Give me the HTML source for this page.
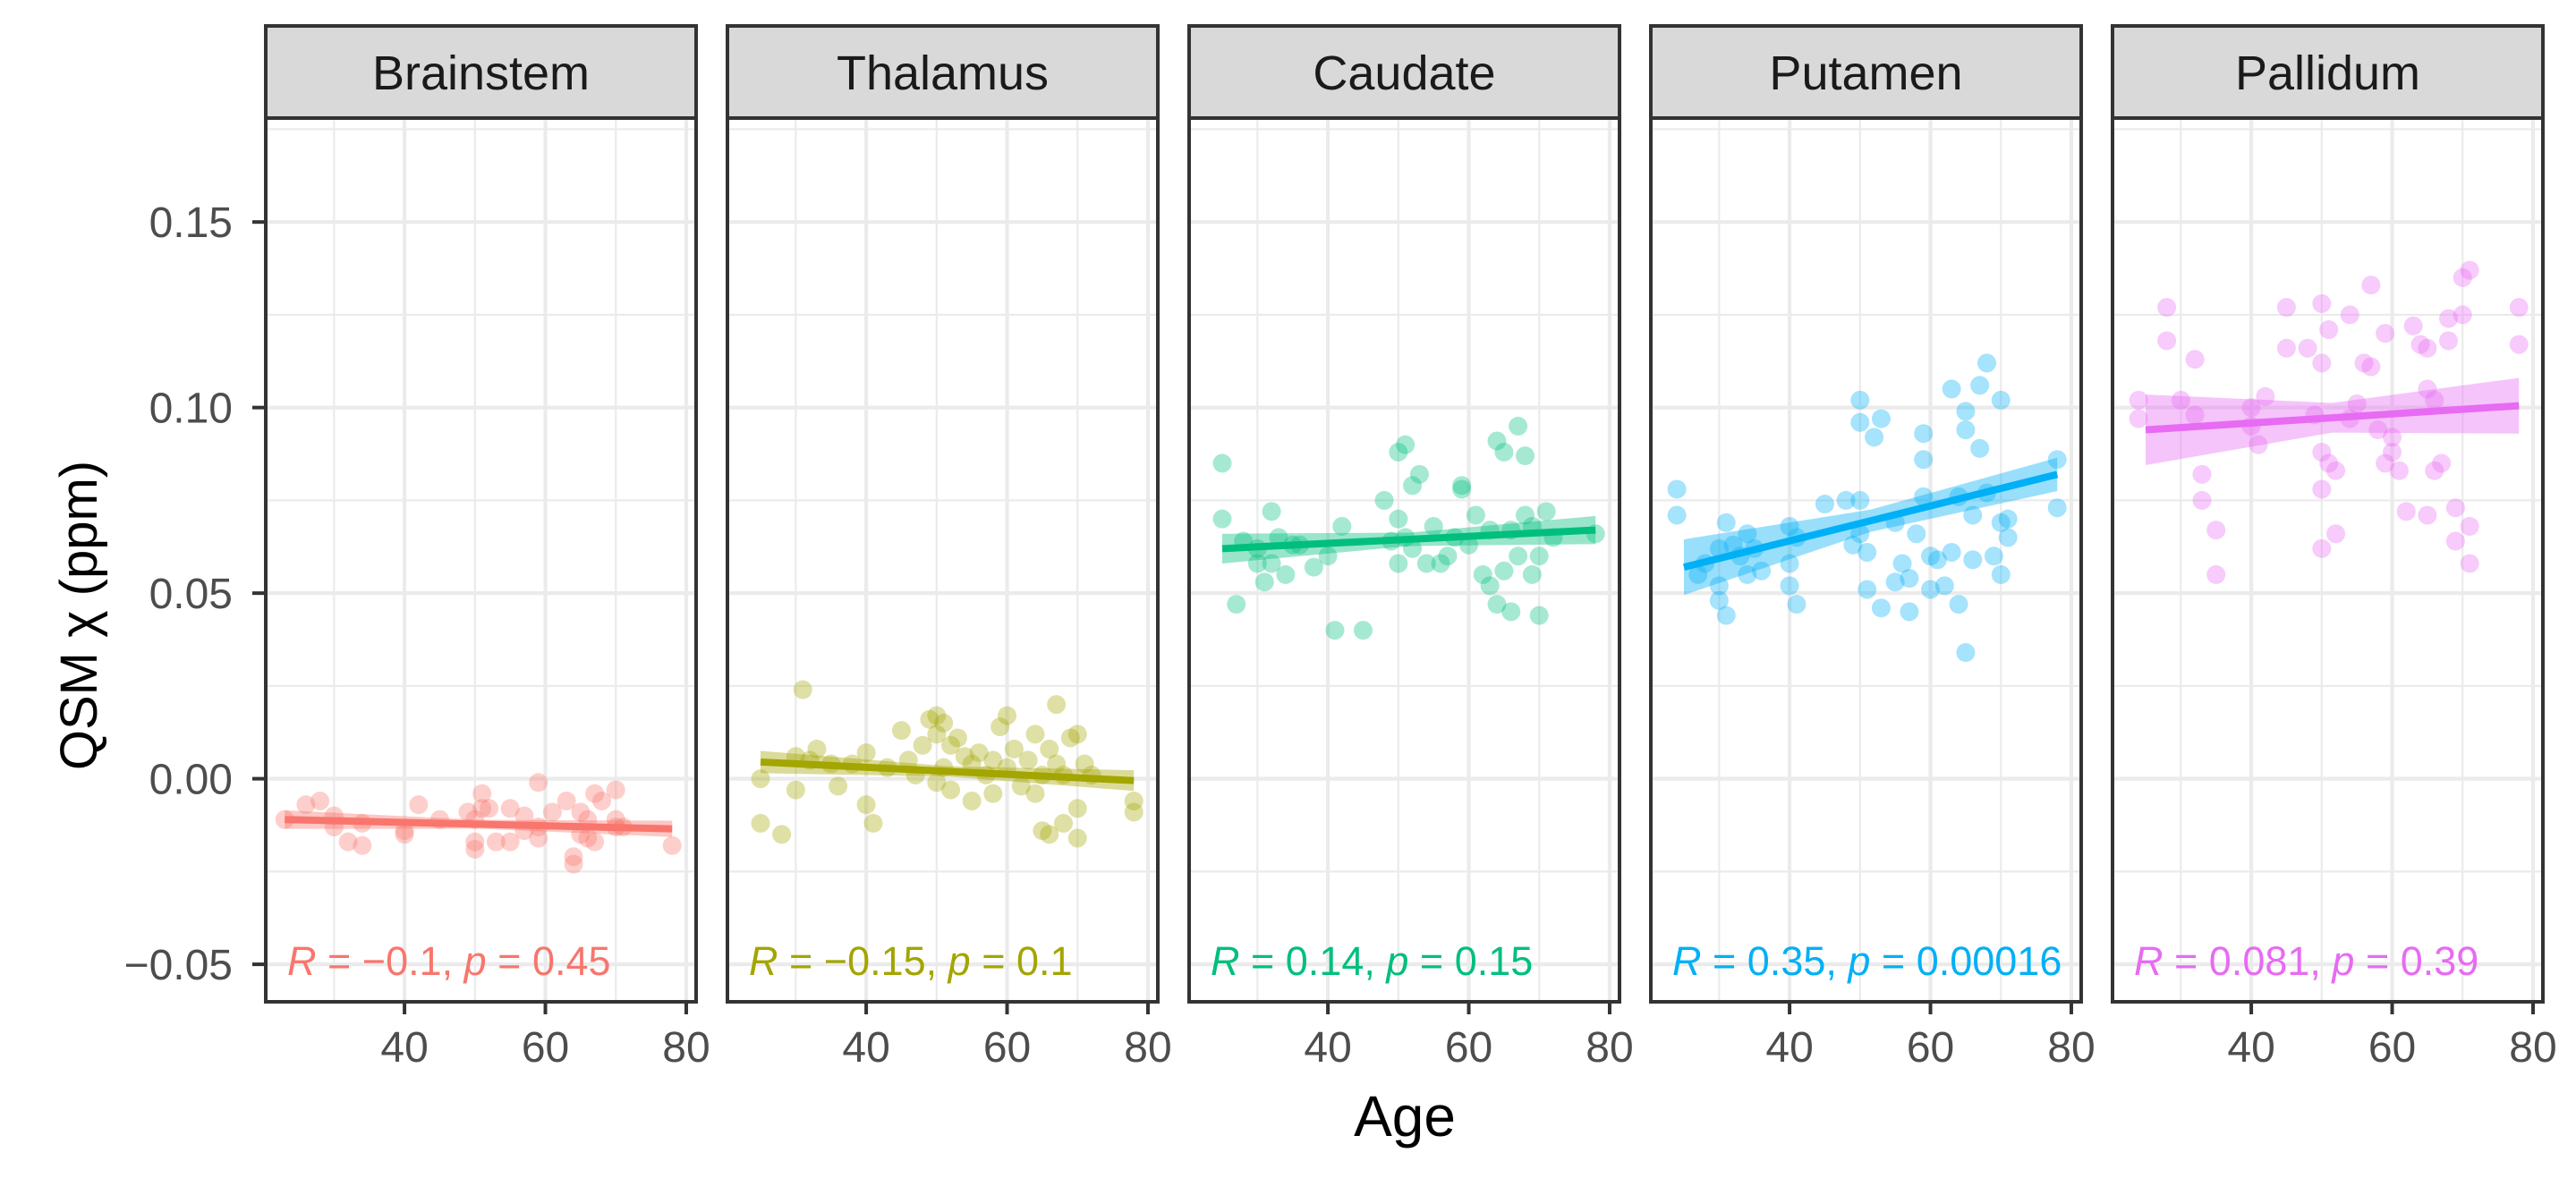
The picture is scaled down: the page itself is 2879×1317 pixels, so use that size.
<!DOCTYPE html>
<html><head><meta charset="utf-8"><style>
html,body{margin:0;padding:0;background:#fff}
svg{display:block;font-family:"Liberation Sans",sans-serif}
</style></head><body>
<svg id="chart" width="2879" height="1317" viewBox="0 0 2879 1317" xmlns="http://www.w3.org/2000/svg">
<text x="1570" y="1270" font-size="64" text-anchor="middle" fill="#000">Age</text>
<text transform="translate(108,688) rotate(-90)" font-size="58" text-anchor="middle" fill="#000">QSM χ (ppm)</text>
</svg>
<script>
const regions = ["Brainstem","Thalamus","Caudate","Putamen","Pallidum"];
const colors = ["#F8766D","#A3A500","#00BF7D","#00B0F6","#E76BF3"];
const annR = ["−0.1","−0.15","0.14","0.35","0.081"];
const annP = ["0.45","0.1","0.15","0.00016","0.39"];
const yTicks = [-0.05,0,0.05,0.10,0.15];
const yTickLabels = ["−0.05","0.00","0.05","0.10","0.15"];
const yMinor = [-0.025,0.025,0.075,0.125,0.175];
const xTicks = [40,60,80];
const xMinor = [30,50,70];
const fitX0 = [23,25,25,25,25];
const fitX1 = [78,78,78,78,78];
const fitY0 = [-0.011,0.0045,0.062,0.057,0.094];
const fitY1 = [-0.0135,-0.0005,0.067,0.082,0.1005];
const seStart = [0.0025,0.003,0.004,0.0075,0.0095];
const seMid = [0.0012,0.0014,0.0018,0.003,0.004];
const seEnd = [0.0022,0.0028,0.0038,0.0045,0.0075];
const brainstemAge = [23,26,28,30,30,32,34,34,40,40,42,45,49,50,50,50,51,51,52,53,55,55,57,57,59,59,59,61,63,64,64,65,65,66,66,67,67,68,70,70,70,71,78];
const brainstemVal = [-0.011,-0.007,-0.006,-0.010,-0.013,-0.017,-0.018,-0.012,-0.014,-0.015,-0.007,-0.011,-0.009,-0.011,-0.017,-0.019,-0.004,-0.008,-0.008,-0.017,-0.008,-0.017,-0.010,-0.014,-0.001,-0.013,-0.016,-0.009,-0.006,-0.021,-0.023,-0.009,-0.015,-0.011,-0.016,-0.004,-0.017,-0.006,-0.003,-0.011,-0.013,-0.013,-0.018];
const thalamusAge = [25,25,28,30,30,31,32,33,35,36,38,40,40,41,43,45,46,47,48,49,50,50,50,51,51,52,52,53,54,55,55,56,57,58,58,59,60,60,61,62,63,64,64,65,65,66,66,67,67,68,68,69,70,70,70,71,72,78,78];
const thalamusVal = [0.000,-0.012,-0.015,0.006,-0.003,0.024,0.005,0.008,0.004,-0.002,0.004,0.007,-0.007,-0.012,0.003,0.013,0.005,0.001,0.009,0.016,0.017,0.012,-0.001,0.015,0.003,0.009,-0.003,0.011,0.006,0.004,-0.006,0.007,0.001,0.005,-0.004,0.014,0.017,0.003,0.008,-0.002,0.005,0.012,-0.004,0.001,-0.014,0.008,-0.015,0.020,0.004,0.001,-0.012,0.011,0.012,-0.008,-0.016,0.004,0.001,-0.006,-0.009];
const caudateAge = [25,25,27,28,30,30,31,32,32,33,34,35,36,38,40,41,42,45,48,49,50,50,50,51,51,52,52,53,54,55,56,57,58,59,59,60,61,62,63,63,64,64,65,65,66,66,67,67,68,68,69,69,70,70,71,72,78];
const caudateVal = [0.085,0.070,0.047,0.064,0.058,0.062,0.053,0.072,0.058,0.065,0.055,0.063,0.063,0.057,0.060,0.040,0.068,0.040,0.075,0.064,0.088,0.070,0.058,0.090,0.065,0.079,0.062,0.082,0.058,0.068,0.058,0.060,0.065,0.079,0.078,0.063,0.071,0.055,0.067,0.052,0.091,0.047,0.088,0.056,0.067,0.045,0.095,0.060,0.087,0.071,0.068,0.055,0.060,0.044,0.072,0.065,0.066];
const putamenAge = [24,24,27,28,30,30,30,31,31,32,33,34,34,35,36,40,40,40,41,41,45,48,49,50,50,50,50,51,51,52,53,53,55,55,56,57,57,58,59,59,59,60,60,61,62,63,63,64,64,65,65,65,66,66,67,67,68,68,69,70,70,70,71,71,78,78];
const putamenVal = [0.078,0.071,0.055,0.058,0.062,0.052,0.048,0.069,0.044,0.063,0.060,0.066,0.055,0.062,0.056,0.068,0.058,0.052,0.065,0.047,0.074,0.075,0.063,0.102,0.096,0.075,0.066,0.061,0.051,0.092,0.097,0.046,0.069,0.053,0.058,0.054,0.045,0.066,0.093,0.086,0.076,0.060,0.051,0.059,0.052,0.105,0.061,0.076,0.047,0.099,0.094,0.034,0.071,0.059,0.106,0.089,0.112,0.077,0.060,0.102,0.069,0.055,0.070,0.065,0.086,0.073];
const pallidumAge = [24,24,28,28,30,32,32,33,33,35,35,40,40,41,42,45,45,48,49,50,50,50,50,50,51,51,52,52,54,54,55,56,57,57,58,59,59,60,60,61,62,63,64,65,65,65,66,66,67,68,68,69,69,70,70,71,71,71,78,78];
const pallidumVal = [0.102,0.097,0.127,0.118,0.102,0.113,0.098,0.082,0.075,0.067,0.055,0.100,0.095,0.090,0.103,0.127,0.116,0.116,0.098,0.128,0.112,0.088,0.078,0.062,0.121,0.085,0.083,0.066,0.125,0.097,0.101,0.112,0.133,0.111,0.094,0.120,0.085,0.092,0.088,0.083,0.072,0.122,0.117,0.116,0.105,0.071,0.102,0.083,0.085,0.124,0.118,0.073,0.064,0.135,0.125,0.137,0.068,0.058,0.127,0.117];
const pointAges = [brainstemAge,thalamusAge,caudateAge,putamenAge,pallidumAge];
const pointVals = [brainstemVal,thalamusVal,caudateVal,putamenVal,pallidumVal];

const NS="http://www.w3.org/2000/svg";
const svg=document.getElementById('chart');
const P0=297, PW=481, GAP=35, PT=132, PB=1120, ST=29;
const XMIN=20.3, XMAX=81.4, YMIN=-0.0601, YMAX=0.178;
function sx(i,v){return P0+i*(PW+GAP)+(v-XMIN)/(XMAX-XMIN)*PW;}
function sy(v){return PB-(v-YMIN)/(YMAX-YMIN)*(PB-PT);}
function mk(tag,attrs,parent){const e=document.createElementNS(NS,tag);for(const k in attrs)e.setAttribute(k,attrs[k]);(parent||svg).appendChild(e);return e;}

yTicks.forEach((v,j)=>{
  const t=mk('text',{x:260,y:sy(v)+17,'font-size':48,'text-anchor':'end',fill:'#4D4D4D'});
  t.textContent=yTickLabels[j];
  
  
  const tk=mk('line',{x1:282,x2:P0,y1:sy(v),y2:sy(v),stroke:'#333','stroke-width':4});
  
  
});

regions.forEach((name,i)=>{
  const L=P0+i*(PW+GAP);
  const g=mk('g',{});
  
  
  mk('rect',{x:L,y:PT,width:PW,height:PB-PT,fill:'#fff'},g);
  yMinor.forEach(v=>{if(sy(v)>PT)mk('line',{x1:L,x2:L+PW,y1:sy(v),y2:sy(v),stroke:'#EBEBEB','stroke-width':2.2},g);});
  xMinor.forEach(v=>mk('line',{x1:sx(i,v),x2:sx(i,v),y1:PT,y2:PB,stroke:'#EBEBEB','stroke-width':2.2},g));
  yTicks.forEach(v=>mk('line',{x1:L,x2:L+PW,y1:sy(v),y2:sy(v),stroke:'#EBEBEB','stroke-width':4.2},g));
  xTicks.forEach(v=>mk('line',{x1:sx(i,v),x2:sx(i,v),y1:PT,y2:PB,stroke:'#EBEBEB','stroke-width':4.2},g));
  pointAges[i].forEach((a,k)=>{
    const c=mk('circle',{cx:sx(i,a),cy:sy(pointVals[i][k]),r:10.5,fill:colors[i],'fill-opacity':0.35},g);
    
    
  });
  const xm=(fitX0[i]+fitX1[i])/2, ym=(fitY0[i]+fitY1[i])/2;
  const pts=[[fitX0[i],fitY0[i]+seStart[i]],[xm,ym+seMid[i]],[fitX1[i],fitY1[i]+seEnd[i]],[fitX1[i],fitY1[i]-seEnd[i]],[xm,ym-seMid[i]],[fitX0[i],fitY0[i]-seStart[i]]];
  const band=mk('polygon',{points:pts.map(p=>sx(i,p[0])+','+sy(p[1])).join(' '),fill:colors[i],'fill-opacity':0.4},g);
  
  
  const ln=mk('line',{x1:sx(i,fitX0[i]),y1:sy(fitY0[i]),x2:sx(i,fitX1[i]),y2:sy(fitY1[i]),stroke:colors[i],'stroke-width':8},g);
  
  
  const t=mk('text',{x:L+24,y:1090,'font-size':45,fill:colors[i]},g);
  t.innerHTML='<tspan font-style="italic">R</tspan> = '+annR[i]+', <tspan font-style="italic">p</tspan> = '+annP[i];
  
  
  mk('rect',{x:L,y:PT,width:PW,height:PB-PT,fill:'none',stroke:'#333','stroke-width':4},g);
  const s=mk('rect',{x:L,y:ST,width:PW,height:PT-ST,fill:'#D9D9D9',stroke:'#333','stroke-width':4},g);
  
  
  const st=mk('text',{x:L+PW/2,y:100,'font-size':54,'text-anchor':'middle',fill:'#1A1A1A'},g);
  st.textContent=name;
  
  
  xTicks.forEach(v=>{
    mk('line',{x1:sx(i,v),x2:sx(i,v),y1:PB,y2:PB+14,stroke:'#333','stroke-width':4},g);
    const xl=mk('text',{x:sx(i,v),y:1187,'font-size':48,'text-anchor':'middle',fill:'#4D4D4D'},g);
    xl.textContent=v;
    
    
  });
});
</script>
</body></html>
